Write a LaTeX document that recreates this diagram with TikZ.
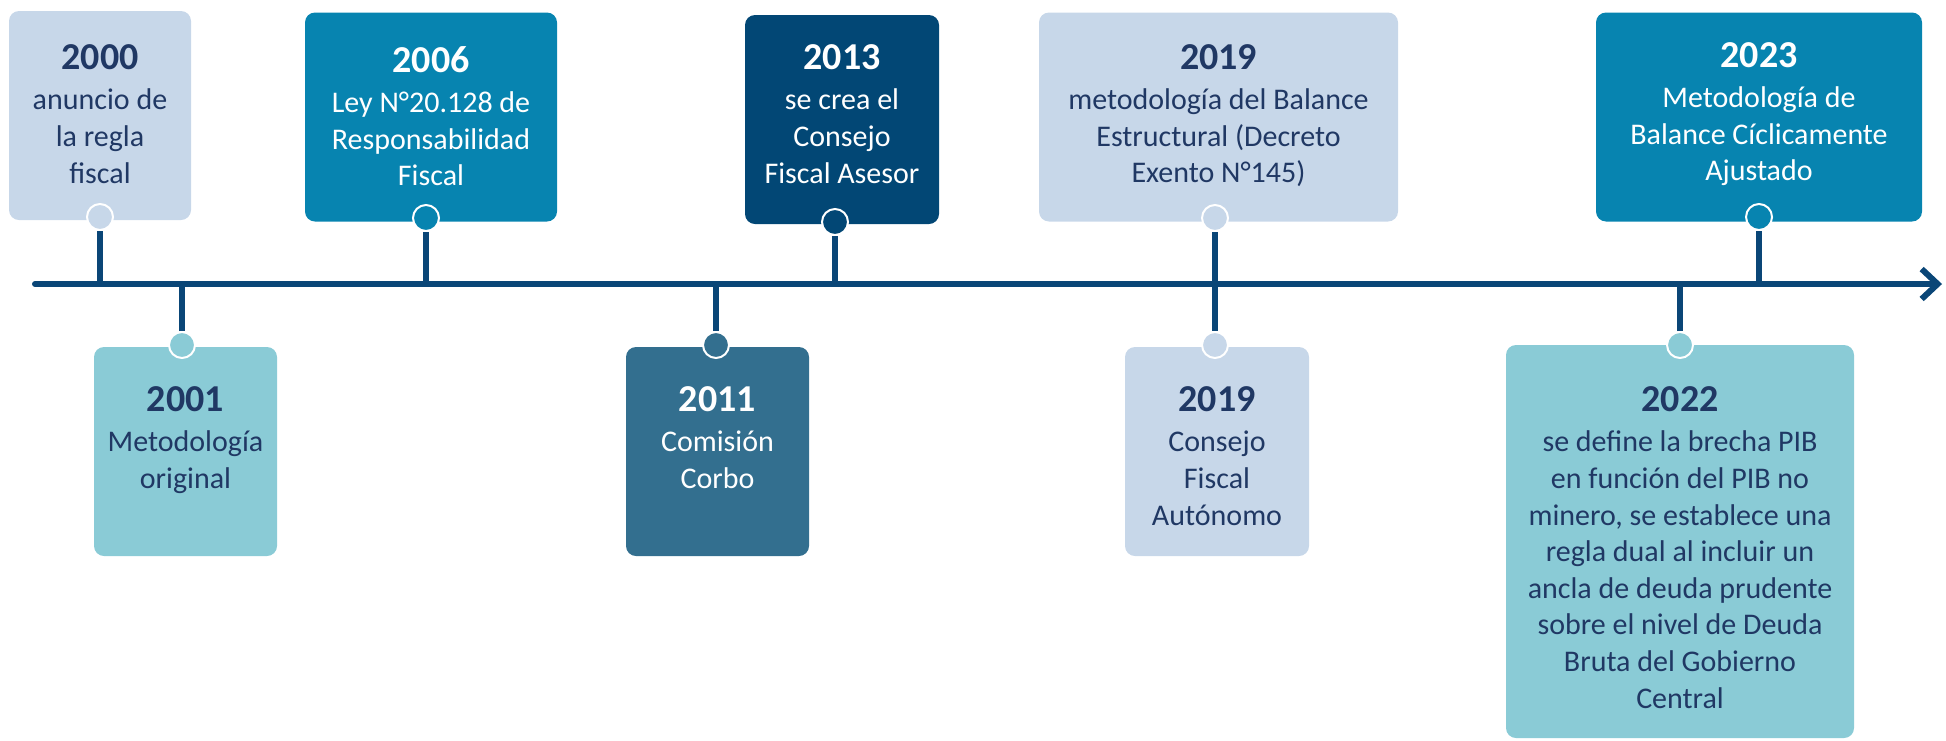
\documentclass[tikz,border=0pt]{standalone}
\usepackage{fontspec}
\setmainfont{Carlito}
\usepackage{xcolor}
\usepackage{tikz}
\usetikzlibrary{arrows.meta, positioning}

\definecolor{palebox}{HTML}{C7D7E9}
\definecolor{tealbox}{HTML}{0784B0}
\definecolor{navybox}{HTML}{024775}
\definecolor{steelbox}{HTML}{336F8F}
\definecolor{aquabox}{HTML}{8ACBD6}
\definecolor{darktxt}{HTML}{203864}
\definecolor{lineblue}{HTML}{0A4677}

\newcommand{\yr}[1]{{\fontsize{19}{20}\selectfont\bfseries #1}}

\begin{document}
\begin{tikzpicture}[x=0.5pt, y=-0.5pt,
    box/.style={rectangle, rounded corners=5pt, minimum height=104.5pt, inner sep=0pt},
    txt/.style={align=center, inner sep=0pt, font=\fontsize{15}{18.3}\selectfont},
    dot/.style={circle, draw=white, line width=1pt, minimum size=13pt, inner sep=0pt},
    stem/.style={draw=lineblue, line width=3pt},
    arrow/.style={-{Straight Barb[length=8pt, width=15pt]}, draw=lineblue, line width=3pt, line cap=round}
]
\useasboundingbox (0,0) rectangle (1946,740);

% Timeline ends
\coordinate (tlstart) at (35,284);
\coordinate (tlend) at (1942,284);

% Upper boxes
\node[box, fill=palebox, minimum width=91pt] (b2000) at (100,115.5) {};
\node[box, fill=tealbox, minimum width=126pt] (b2006) at (431,117) {};
\node[box, fill=navybox, minimum width=97pt] (b2013) at (842,119.5) {};
\node[box, fill=palebox, minimum width=179.5pt] (b2019a) at (1218.5,117) {};
\node[box, fill=tealbox, minimum width=163pt] (b2023) at (1759,117) {};

% Lower boxes
\node[box, fill=aquabox, minimum width=91.5pt] (b2001) at (185.5,451.5) {};
\node[box, fill=steelbox, minimum width=91.5pt] (b2011) at (717.5,451.5) {};
\node[box, fill=palebox, minimum width=92pt] (b2019b) at (1217,451.5) {};
\node[box, fill=aquabox, minimum width=174pt, minimum height=196.5pt] (b2022) at (1680,541.5) {};

% Texts
\node[txt, text=darktxt, below=17pt of b2000.north] (t2000) {\yr{2000}\\[1.7pt]anuncio de\\la regla\\fiscal};
\node[txt, text=white, below=17pt of b2006.north] (t2006) {\yr{2006}\\[1.7pt]Ley N°20.128 de\\Responsabilidad\\Fiscal};
\node[txt, text=white, below=15pt of b2013.north] (t2013) {\yr{2013}\\[1.7pt]se crea el\\Consejo\\Fiscal Asesor};
\node[txt, text=darktxt, below=16pt of b2019a.north] (t2019a) {\yr{2019}\\[1.7pt]metodología del Balance\\Estructural (Decreto\\Exento N°145)};
\node[txt, text=white, below=15pt of b2023.north] (t2023) {\yr{2023}\\[1.7pt]Metodología de\\Balance Cíclicamente\\Ajustado};
\node[txt, text=darktxt, below=20pt of b2001.north] (t2001) {\yr{2001}\\[1.7pt]Metodología\\original};
\node[txt, text=white, below=20pt of b2011.north] (t2011) {\yr{2011}\\[1.7pt]Comisión\\Corbo};
\node[txt, text=darktxt, below=20pt of b2019b.north] (t2019b) {\yr{2019}\\[1.7pt]Consejo\\Fiscal\\Autónomo};
\node[txt, text=darktxt, below=21pt of b2022.north] (t2022) {\yr{2022}\\[1.7pt]se define la brecha PIB\\en función del PIB no\\minero, se establece una\\regla dual al incluir un\\ancla de deuda prudente\\sobre el nivel de Deuda\\Bruta del Gobierno\\Central};

% Dots
\node[dot, fill=palebox] (d2000) at (100,217) {};
\node[dot, fill=tealbox] (d2006) at (426,218) {};
\node[dot, fill=navybox] (d2013) at (835,222) {};
\node[dot, fill=palebox] (d2019a) at (1215,218) {};
\node[dot, fill=tealbox] (d2023) at (1759,217) {};
\node[dot, fill=aquabox] (d2001) at (182,345) {};
\node[dot, fill=steelbox] (d2011) at (716,345) {};
\node[dot, fill=palebox] (d2019b) at (1215,345) {};
\node[dot, fill=aquabox] (d2022) at (1680,345) {};

% Stems
\draw[stem] (d2000.south) -- (d2000.south |- tlstart);
\draw[stem] (d2006.south) -- (d2006.south |- tlstart);
\draw[stem] (d2013.south) -- (d2013.south |- tlstart);
\draw[stem] (d2023.south) -- (d2023.south |- tlstart);
\draw[stem] (d2019a.south) -- (d2019b.north);
\draw[stem] (d2001.north) -- (d2001.north |- tlstart);
\draw[stem] (d2011.north) -- (d2011.north |- tlstart);
\draw[stem] (d2022.north) -- (d2022.north |- tlstart);

% Timeline
\draw[arrow] (tlstart) -- (tlend);

\end{tikzpicture}
\end{document}
